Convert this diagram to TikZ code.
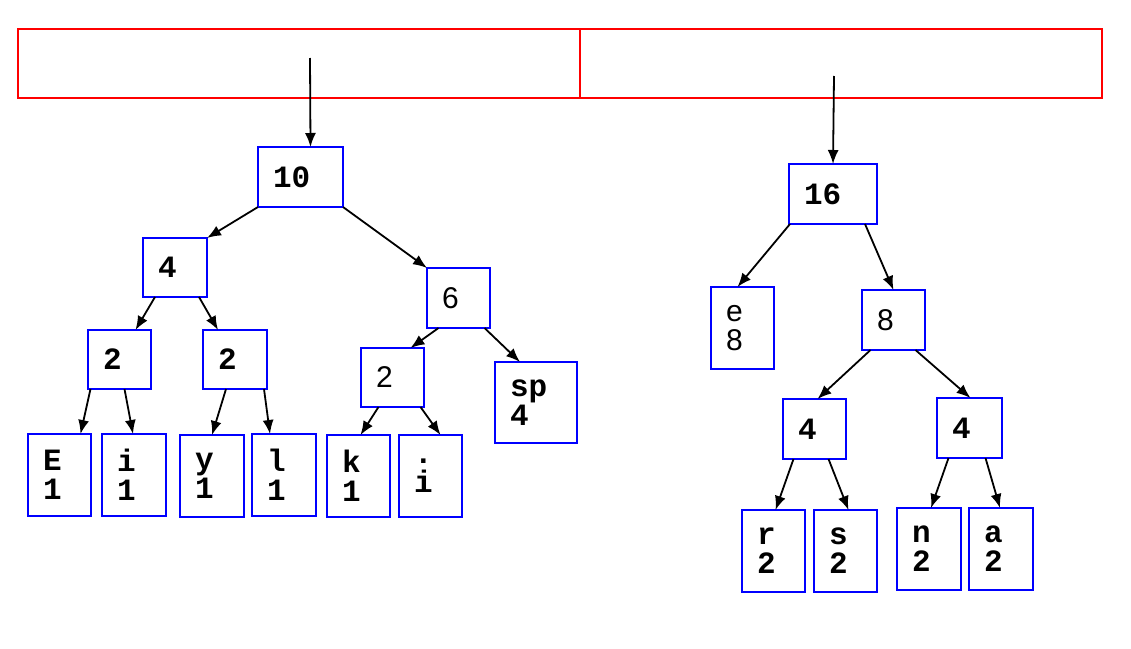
\documentclass[tikz,border=0pt]{standalone}
\usepackage{fontspec}
\usetikzlibrary{arrows.meta}
\newfontfamily\monofnt{Liberation Mono}
\newfontfamily\sansfnt{Liberation Sans}
\tikzset{
  cell/.style={draw=red, line width=1.8pt, rectangle, inner sep=0pt, outer sep=0pt},
  bx/.style 2 args={draw=blue, line width=1.8pt, rectangle, inner xsep=15pt, inner ysep=0pt,
     outer sep=0pt, align=left, text width=#1, minimum height=#2,
     font=\monofnt\bfseries\fontsize{31}{29}\selectfont},
  sf/.style={font=\sansfnt\fontsize{30}{29}\selectfont},
  ar/.style={-{Latex[length=14pt,width=11pt]}, line width=1.8pt, black},
}
\begin{document}
\begin{tikzpicture}[x=1pt,y=-1pt]
\useasboundingbox (0,0) rectangle (1131,648);
% top cells
\node[cell, minimum width=562pt, minimum height=69pt] (cellL) at (299,63.5) {};
\node[cell, minimum width=522pt, minimum height=69pt] (cellR) at (841,63.5) {};
\coordinate (startL) at (310,58);
\coordinate (startR) at (834,76);
% left tree
\node[bx={55pt}{60pt}] (n10) at (300.5,177) {10};
\node[bx={34pt}{59pt}] (n4) at (175,267.5) {4};
\node[bx={33pt}{60pt}, sf] (n6) at (458.5,298) {6};
\node[bx={33pt}{59pt}] (n2a) at (119.5,359.5) {2};
\node[bx={34pt}{59pt}] (n2b) at (235,359.5) {2};
\node[bx={33pt}{59pt}, sf] (n2c) at (392.5,377.5) {2};
\node[bx={52pt}{81pt}] (nsp) at (536,402.5) {sp\\4};
\node[bx={33pt}{82pt}] (nE) at (59.5,475) {E\\1};
\node[bx={34pt}{82pt}] (ni) at (134,475) {i\\1};
\node[bx={34pt}{82pt}] (ny) at (212,476) {y\\1};
\node[bx={34pt}{82pt}] (nl) at (284,475) {l\\1};
\node[bx={33pt}{82pt}] (nk) at (358.5,476) {k\\1};
\node[bx={33pt}{82pt}] (ndot) at (430.5,476) {.\\i};
% right tree
\node[bx={58pt}{60pt}] (n16) at (833,194) {16};
\node[bx={33pt}{82pt}, sf] (ne) at (742.5,328) {e\\8};
\node[bx={33pt}{60pt}, sf] (n8) at (893.5,320) {8};
\node[bx={33pt}{60pt}] (n4a) at (814.5,429) {4};
\node[bx={35pt}{60pt}] (n4b) at (969.5,428) {4};
\node[bx={33pt}{82pt}] (nr) at (773.5,551) {r\\2};
\node[bx={33pt}{82pt}] (ns) at (845.5,551) {s\\2};
\node[bx={34pt}{82pt}] (nn) at (929,549) {n\\2};
\node[bx={34pt}{82pt}] (na) at (1001,549) {a\\2};
% connectors
\draw[ar] (startL) -- ([xshift=10pt]n10.north);
\draw[ar] (startR) -- (n16.north);
\draw[ar] (n10.south west) -- (n4.north east);
\draw[ar] (n10.south east) -- (n6.north west);
\draw[ar] ([xshift=-20pt]n4.south) -- ([xshift=16pt]n2a.north);
\draw[ar] ([xshift=24pt]n4.south) -- ([xshift=-17pt]n2b.north);
\draw[ar] ([xshift=-29pt]n2a.south) -- ([xshift=21pt]nE.north);
\draw[ar] ([xshift=5pt]n2a.south) -- ([xshift=-1pt]ni.north);
\draw[ar] ([xshift=-9pt]n2b.south) -- (ny.north);
\draw[ar] ([xshift=29pt]n2b.south) -- ([xshift=-14pt]nl.north);
\draw[ar] ([xshift=-20pt]n6.south) -- ([xshift=18pt]n2c.north);
\draw[ar] ([xshift=26pt]n6.south) -- ([xshift=-16pt]nsp.north);
\draw[ar] ([xshift=-14pt]n2c.south) -- ([xshift=2pt]nk.north);
\draw[ar] ([xshift=28pt]n2c.south) -- ([xshift=10pt]ndot.north);
\draw[ar] ([xshift=1pt]n16.south west) -- ([xshift=-5pt]ne.north);
\draw[ar] ([xshift=32pt]n16.south) -- (n8.north);
\draw[ar] ([xshift=-23pt]n8.south) -- ([xshift=3pt]n4a.north);
\draw[ar] ([xshift=22pt]n8.south) -- ([xshift=1pt]n4b.north);
\draw[ar] ([xshift=-21pt]n4a.south) -- ([xshift=2pt]nr.north);
\draw[ar] ([xshift=14pt]n4a.south) -- ([xshift=3pt]ns.north);
\draw[ar] ([xshift=-21pt]n4b.south) -- ([xshift=2pt]nn.north);
\draw[ar] ([xshift=16pt]n4b.south) -- ([xshift=-1pt]na.north);
\end{tikzpicture}
\end{document}
